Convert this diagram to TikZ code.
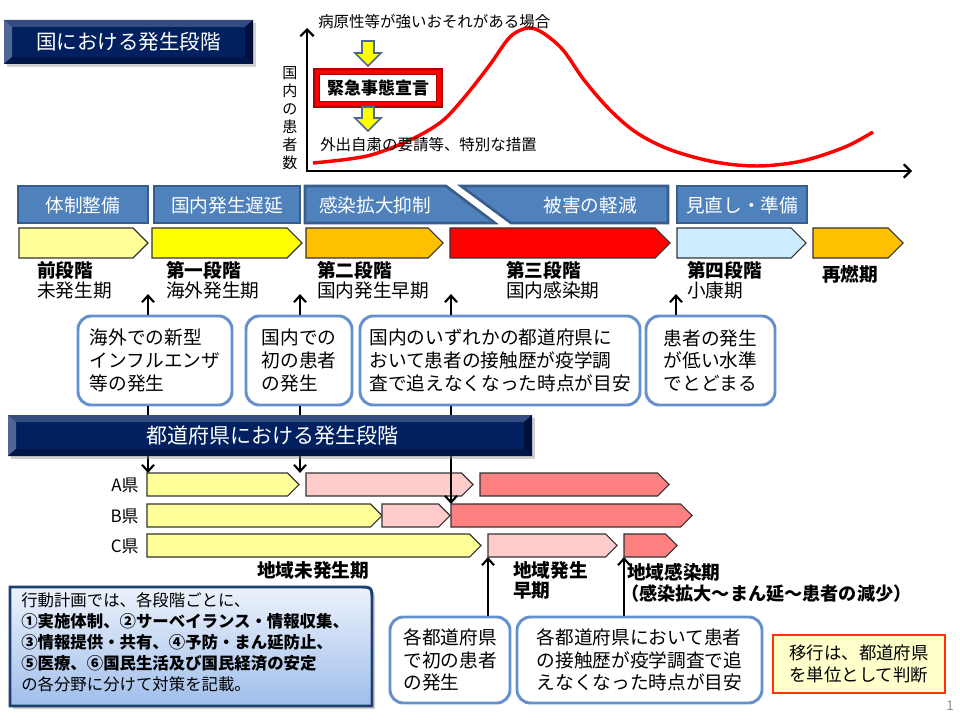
\documentclass[tikz,border=0pt]{standalone}
\usepackage{fontspec}
\setmainfont{Noto Sans CJK JP}
\usetikzlibrary{arrows.meta,calc}
\newcommand\upx{0.75pt}
\newcommand\fsz[2]{\fontsize{#1}{#2}\selectfont}
\definecolor{hdrblue}{RGB}{79,129,189}
\definecolor{hdrline}{RGB}{56,93,138}
\definecolor{navy}{RGB}{0,32,96}
\definecolor{bvtop}{RGB}{52,76,128}
\definecolor{bvleft}{RGB}{80,102,150}
\definecolor{bvright}{RGB}{0,16,58}
\definecolor{bvbot}{RGB}{0,22,72}
\definecolor{ltyellow}{RGB}{255,255,153}
\definecolor{styellow}{RGB}{255,255,0}
\definecolor{storange}{RGB}{255,192,0}
\definecolor{stred}{RGB}{255,0,0}
\definecolor{stblue}{RGB}{204,236,255}
\definecolor{rpink}{RGB}{255,204,204}
\definecolor{rsalmon}{RGB}{255,128,128}
\definecolor{callb}{RGB}{100,145,205}
\definecolor{actline}{RGB}{31,63,112}
\definecolor{acttop}{RGB}{236,242,252}
\definecolor{actbot}{RGB}{160,190,235}
\definecolor{noteline}{RGB}{255,51,0}
\definecolor{notefill}{RGB}{255,255,204}
\definecolor{yarrline}{RGB}{74,106,144}
\definecolor{kinred}{RGB}{176,0,0}
\newcommand\pent[6]{%
  \filldraw[pentst,fill=#6] (#2,#4) -- ({#3-(#5-#4)/2},#4) -- (#3,{(#4+#5)/2}) -- ({#3-(#5-#4)/2},#5) -- (#2,#5) -- cycle;
  \coordinate (#1-nw) at (#2,#4);
  \coordinate (#1-sw) at (#2,#5);
}
\newcommand\banner[4]{% x1,y1,x2,y2
  \fill[black!40,opacity=0.45] ({#1+3},{#2+3}) rectangle ({#3+3},{#4+3});
  \fill[navy] (#1,#2) rectangle (#3,#4);
  \fill[bvtop] (#1,#2) -- (#3,#2) -- ({#3-8},{#2+7}) -- ({#1+8},{#2+7}) -- cycle;
  \fill[bvleft] (#1,#2) -- ({#1+8},{#2+7}) -- ({#1+8},{#4-7}) -- (#1,#4) -- cycle;
  \fill[bvright] (#3,#2) -- ({#3-8},{#2+7}) -- ({#3-8},{#4-7}) -- (#3,#4) -- cycle;
  \fill[bvbot] (#1,#4) -- ({#1+8},{#4-7}) -- ({#3-8},{#4-7}) -- (#3,#4) -- cycle;
}
\begin{document}
\begin{tikzpicture}[x=0.75pt,y=-0.75pt,
  pentst/.style={draw=black!80,line width=0.8pt},
  txt/.style={inner sep=0,anchor=west},
  hdrtxt/.style={inner sep=0,text=white,font=\fsz{14}{17}},
  hdrbox/.style={fill=hdrblue,draw=hdrline,line width=2pt},
  callout/.style={draw=callb,line width=2.2pt,rounded corners=10pt,fill=white,align=left,inner sep=0,font=\fsz{14}{17}},
  arr/.style={draw=black,line width=2pt,-{Straight Barb[length=5pt,width=9pt,line width=1.6pt]}},
  axis/.style={draw=black,line width=2.2pt,{Straight Barb[length=5pt,width=10pt,line width=1.6pt]}-{Straight Barb[length=5pt,width=10pt,line width=1.6pt]}},
  yarr/.style={fill=styellow,draw=yarrline,line width=1.3pt,line join=miter},
  stA/.style={txt,font=\bfseries\fsz{14}{17}},
  stB/.style={txt,font=\fsz{14}{17}}]
\useasboundingbox (0,0) rectangle (960,720);
\fill[white] (0,0) rectangle (960,720);

% ---- title banner
\banner{4}{20}{253}{64}
\node[inner sep=0,text=white,font=\fsz{15.4}{18}] (title) at (128.5,42) {国における発生段階};

% ---- chart
\node[inner sep=0,align=center,font=\fsz{11.3}{13.5}] (ylab) at (290,118) {国\\内\\の\\患\\者\\数};
\coordinate (Ytop) at (307,28);
\coordinate (Xend) at (912,171);
\draw[axis,line join=miter] (Ytop) |- (Xend);
\draw[stred,line width=2.6pt] plot[smooth,tension=0.55] coordinates {(313,163) (367,156) (410,140) (441,122) (463,99) (489,66) (510,37) (528,28) (543,33) (563,50) (584,80) (610,110) (637,133) (671,150) (715,162) (758,166) (802,161) (845,147) (873,132)};
\node[txt,font=\fsz{11.6}{14}] (risk) at (318,22) {病原性等が強いおそれがある場合};
\filldraw[yarr] (362,41) -- (374,41) -- (374,53) -- (381,53) -- (368,66) -- (355,53) -- (362,53) -- cycle;
\fill[kinred] (313,68) rectangle (443,108);
\fill[stred] (315,70) rectangle (441,106);
\fill[kinred] (319,74) rectangle (437,102);
\node[fill=white,minimum width=116*\upx,minimum height=26*\upx,inner sep=0,font=\bfseries\fsz{12.75}{14}] (kin) at (378,88) {緊急事態宣言};
\filldraw[yarr] (362,107) -- (374,107) -- (374,118) -- (381,118) -- (368,131) -- (355,118) -- (362,118) -- cycle;
\node[txt,font=\fsz{11.6}{14}] (measure) at (320,145) {外出自粛の要請等、特別な措置};

% ---- blue header band
\filldraw[hdrbox] (18,186) rectangle (148,223);
\filldraw[hdrbox] (154,186) rectangle (300,223);
\filldraw[hdrbox] (305,186) -- (446,186) -- (495,223) -- (305,223) -- cycle;
\filldraw[hdrbox] (461,186) -- (668,186) -- (668,223) -- (511,223) -- cycle;
\filldraw[hdrbox] (677,186) rectangle (807,223);
\node[hdrtxt] (h1) at (83,205) {体制整備};
\node[hdrtxt] (h2) at (227,205) {国内発生遅延};
\node[hdrtxt] (h3) at (375,205) {感染拡大抑制};
\node[hdrtxt] (h4) at (590,205) {被害の軽減};
\node[hdrtxt] (h5) at (742,205) {見直し・準備};

% ---- stage bars
\pent{s0}{19}{148}{228}{258}{ltyellow}
\pent{s1}{152}{302}{228}{258}{styellow}
\pent{s2}{306}{443}{228}{258}{storange}
\pent{s3}{450}{670}{228}{258}{stred}
\pent{s4}{677}{806}{228}{258}{stblue}
\pent{s5}{813}{903}{228}{258}{storange}
\node[stA] (l0a) at (37,270) {前段階};
\node[stB] (l0b) at (37,290) {未発生期};
\node[stA] (l1a) at (166,270) {第一段階};
\node[stB] (l1b) at (166,290) {海外発生期};
\node[stA] (l2a) at (317,270) {第二段階};
\node[stB] (l2b) at (317,290) {国内発生早期};
\node[stA] (l3a) at (506,270) {第三段階};
\node[stB] (l3b) at (506,290) {国内感染期};
\node[stA] (l4a) at (687,270) {第四段階};
\node[stB] (l4b) at (687,290) {小康期};
\node[stA] (l5a) at (822,274) {再燃期};

% ---- callouts
\node[callout,minimum width=154*\upx,minimum height=89*\upx] (cA) at (155,360.5) {海外での新型\\インフルエンザ\\等の発生};
\node[callout,minimum width=106*\upx,minimum height=89*\upx] (cB) at (299,360.5) {国内での\\初の患者\\の発生};
\node[callout,minimum width=280*\upx,minimum height=89*\upx] (cC) at (500,360.5) {国内のいずれかの都道府県に\\おいて患者の接触歴が疫学調\\査で追えなくなった時点が目安};
\node[callout,minimum width=129*\upx,minimum height=89*\upx] (cD) at (710.5,360.5) {患者の発生\\が低い水準\\でとどまる};
\coordinate (tA) at (148,294);
\coordinate (tB) at (300,294);
\coordinate (tC) at (451,294);
\coordinate (tD) at (676,294);
\draw[arr] (cA.north -| tA) -- (tA);
\draw[arr] (cB.north -| tB) -- (tB);
\draw[arr] (cC.north -| tC) -- (tC);
\draw[arr] (cD.north -| tD) -- (tD);

% ---- prefecture rows
\node[inner sep=0,anchor=east,font=\fsz{12.75}{14}] (pA) at (139,485) {A県};
\node[inner sep=0,anchor=east,font=\fsz{12.75}{14}] (pB) at (139,516) {B県};
\node[inner sep=0,anchor=east,font=\fsz{12.75}{14}] (pC) at (139,546) {C県};
\pent{rA1}{147}{299}{473}{496}{ltyellow}
\pent{rA2}{306}{473}{473}{496}{rpink}
\pent{rA3}{480}{669}{473}{496}{rsalmon}
\pent{rB1}{147}{382}{504}{527}{ltyellow}
\pent{rB2}{382}{450}{504}{527}{rpink}
\pent{rB3}{451}{692}{504}{527}{rsalmon}
\pent{rC1}{147}{481}{534}{557}{ltyellow}
\pent{rC2}{488}{617}{534}{557}{rpink}
\pent{rC3}{624}{677}{534}{557}{rsalmon}

\draw[arr] (cA.south -| tA) -- (tA |- rA1-nw);
\draw[arr] (cB.south -| tB) -- (tB |- rA1-nw);
\draw[arr] (cC.south -| tC) -- (tC |- rB3-nw);

% ---- prefecture banner
\banner{8}{415}{532}{456}
\node[inner sep=0,text=white,font=\fsz{15.75}{18}] (ptitle) at (272,436) {都道府県における発生段階};

% ---- region labels
\node[inner sep=0,font=\bfseries\fsz{14}{17}] (g1) at (313,570) {地域未発生期};
\node[stA] (g2a) at (513,570) {地域発生};
\node[stA] (g2b) at (513,591) {早期};
\node[stA] (g3a) at (627,572) {地域感染期};
\node[txt,font=\bfseries\fsz{13.6}{16}] (g3b) at (621,594) {（感染拡大～まん延～患者の減少）};

% ---- bottom callouts
\node[callout,minimum width=120*\upx,minimum height=86*\upx] (bA) at (450,660) {各都道府県\\で初の患者\\の発生};
\node[callout,minimum width=245*\upx,minimum height=86*\upx] (bB) at (639.5,660) {各都道府県において患者\\の接触歴が疫学調査で追\\えなくなった時点が目安};
\draw[arr] (bA.north -| rC2-sw) -- (rC2-sw);
\draw[arr] (bB.north -| rC3-sw) -- (rC3-sw);

\node[draw=noteline,fill=notefill,line width=1.6pt,minimum width=172*\upx,minimum height=58*\upx,align=left,inner sep=0,font=\fsz{13.1}{16.5}] (note) at (859,664) {移行は、都道府県\\を単位として判断};

% ---- action plan box
\fill[black!40,opacity=0.45] (13,590) -- (361,590) .. controls (375,590) .. (375,604) -- (375,709) -- (13,709) -- cycle;
\draw[actline,line width=2.2pt,top color=acttop,bottom color=actbot] (10,706) -- (10,587) -- (358,587) .. controls (372,587) .. (372,601) -- (372,706) -- cycle;
\node[inner sep=0,anchor=north west,align=left,font=\fsz{12.3}{15.75}] (act) at (21,592) {行動計画では、各段階ごとに、\\
\textbf{①実施体制、②サーベイランス・情報収集、}\\
\textbf{③情報提供・共有、④予防・まん延防止、}\\
\textbf{⑤医療、⑥国民生活及び国民経済の安定}\\
の各分野に分けて対策を記載。};

\node[inner sep=0,text=black!45,font=\fsz{10}{12}] (pg) at (950,706) {1};
\end{tikzpicture}
\end{document}
